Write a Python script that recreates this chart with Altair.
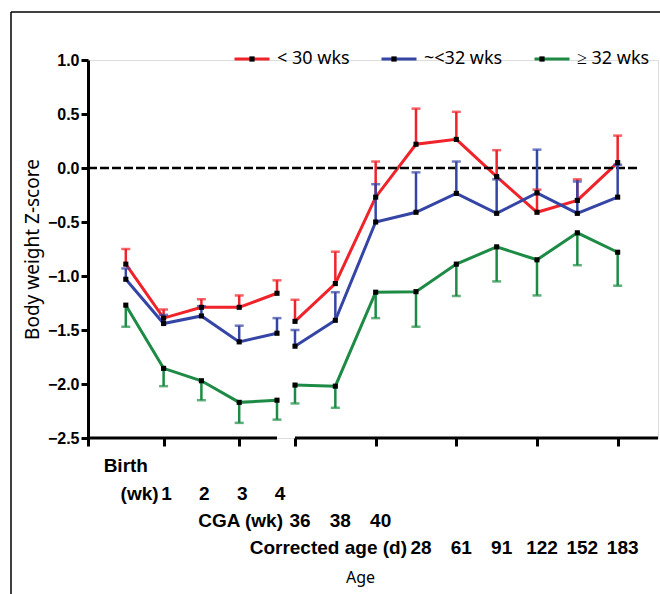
import altair as alt
import pandas as pd

# ---------------- data ----------------
groups = ["< 30 wks", "~<32 wks", "≥ 32 wks"]
colors = ["#f0222a", "#3545a5", "#1d8b45"]

# x index of each time point: 1..5 = Birth, wk1..wk4 ; 6..14 = CGA 36,38,40, CA 28..183 d
positions = [1, 2, 3, 4, 5, 6, 7, 8, 9, 10, 11, 12, 13, 14]

red_vals = [-0.89, -1.39, -1.29, -1.29, -1.16, -1.42, -1.07, -0.27, 0.22, 0.265, -0.08, -0.41, -0.30, 0.05]
red_err = [-0.75, -1.31, -1.215, -1.18, -1.04, -1.22, -0.775, 0.06, 0.55, 0.52, 0.165, -0.20, -0.105, 0.30]
blue_vals = [-1.03, -1.44, -1.37, -1.61, -1.53, -1.65, -1.41, -0.50, -0.41, -0.235, -0.42, -0.23, -0.42, -0.27]
blue_err = [-0.93, -1.36, -1.28, -1.46, -1.39, -1.50, -1.15, -0.15, -0.04, 0.06, -0.105, 0.17, -0.125, 0.03]
green_vals = [-1.27, -1.855, -1.97, -2.17, -2.15, -2.01, -2.02, -1.15, -1.145, -0.89, -0.73, -0.85, -0.60, -0.78]
green_err = [-1.47, -2.02, -2.15, -2.36, -2.33, -2.18, -2.22, -1.39, -1.47, -1.185, -1.05, -1.18, -0.90, -1.09]

series_vals = [red_vals, blue_vals, green_vals]
series_err = [red_err, blue_err, green_err]

# tick label rows
row1_text, row1_pos = ["Birth"], [1]
row2_text, row2_pos = ["1", "2", "3", "4"], [2, 3, 4, 5]
row3_text, row3_pos = ["36", "38", "40"], [6, 7, 8]
row4_text, row4_pos = ["28", "61", "91", "122", "152", "183"], [9, 10, 11, 12, 13, 14]
prefix_text = ["(wk)", "CGA (wk)", "Corrected age (d)"]
prefix_pos = [2, 6, 9]

x_ticks = list(range(16))
y_ticks = [-2.5, -2.0, -1.5, -1.0, -0.5, 0.0, 0.5, 1.0]
seg_start, seg_end = [0, 6], [5, 15]
ref_start, ref_end = [0], [14.55]

# ---------------- tables ----------------
rows = []
for g, vals, errs in zip(groups, series_vals, series_err):
    for p, v, e in zip(positions, vals, errs):
        rows.append({"group": g, "group2": g + " ", "pos": p, "value": v, "bound": e,
                     "segment": "L" if p <= 5 else "R"})
df = pd.DataFrame(rows)

xscale = alt.Scale(domain=[0, 5, 6, 15], range=[0, 189, 207, 570], nice=False, zero=False)
yscale = alt.Scale(domain=[-2.5, 1.0], nice=False, zero=False)

X = alt.X("pos:Q", scale=xscale,
          axis=alt.Axis(values=x_ticks, labels=False, domain=False, grid=False,
                        ticks=True, tickSize=8, tickWidth=3, tickColor="black",
                        title="Age", titleFont="Noto Sans", titleFontSize=16,
                        titleFontWeight="normal", titleColor="black",
                        titleX=272, titleY=131))
Y = alt.Y("value:Q", scale=yscale,
          axis=alt.Axis(values=y_ticks, format=".1f", grid=False,
                        labelFont="Liberation Sans", labelFontWeight="bold",
                        labelFontSize=16, labelColor="black", labelPadding=2,
                        tickSize=7, tickWidth=3, tickColor="black",
                        domainColor="black", domainWidth=3,
                        title="Body weight Z-score", titleFont="Noto Sans",
                        titleFontSize=19, titleFontWeight="normal",
                        titleColor="black", titlePadding=5))

legend_common = dict(orient="none", legendX=145, legendY=-20, direction="horizontal",
                     title=None, symbolSize=1225, symbolStrokeWidth=3,
                     labelFont="Noto Sans", labelFontSize=18, labelColor="black",
                     labelOffset=6, columnPadding=25, padding=0, symbolOffset=0,
                     labelExpr="trim(datum.label)")

color_enc = alt.Color("group:N", scale=alt.Scale(domain=groups, range=colors),
                      legend=alt.Legend(symbolType="stroke", **legend_common))
color_nolegend = alt.Color("group:N", scale=alt.Scale(domain=groups, range=colors), legend=None)

base = alt.Chart(df)

lines = base.mark_line(strokeWidth=3).encode(
    x=X, y=Y, color=color_enc, detail="segment:N", order="pos:Q")

err_rules = base.mark_rule(strokeWidth=2.5).encode(
    x="pos:Q", y="value:Q", y2="bound:Q", color=color_nolegend)

err_caps = base.mark_tick(orient="horizontal", size=9, thickness=2.5).encode(
    x="pos:Q", y="bound:Q", color=color_nolegend)

points = base.mark_square(size=26, opacity=1).encode(
    x="pos:Q", y="value:Q",
    fill=alt.Fill("group2:N", scale=alt.Scale(domain=[g + " " for g in groups], range=["black"] * 3),
                  legend=alt.Legend(symbolType="M-0.15,-0.15H0.15V0.15H-0.15Z",
                                    symbolStrokeColor="transparent", labelOpacity=0,
                                    **legend_common)))

ref_df = pd.DataFrame({"x": ref_start, "x2": ref_end, "y": [0.0]})
ref_line = alt.Chart(ref_df).mark_rule(color="black", strokeWidth=2.5, strokeDash=[9, 3]).encode(
    x="x:Q", x2="x2:Q", y="y:Q")

seg_df = pd.DataFrame({"x": seg_start, "x2": seg_end, "y": [-2.5, -2.5]})
x_domain = alt.Chart(seg_df).mark_rule(color="black", strokeWidth=3).encode(
    x="x:Q", x2="x2:Q", y="y:Q")

def text_layer(texts, pos, ypix, dx, align="center"):
    d = pd.DataFrame({"t": texts, "pos": pos})
    return alt.Chart(d).mark_text(font="Liberation Sans", fontWeight="bold", fontSize=19,
                                  color="black", align=align, baseline="middle", dx=dx).encode(
        x="pos:Q", y=alt.value(ypix), text="t:N")

labels = [
    text_layer(row1_text, row1_pos, 406, 0),
    text_layer(row2_text, row2_pos, 434, 3),
    text_layer(row3_text, row3_pos, 461, 5),
    text_layer(row4_text, row4_pos, 488, 5),
    text_layer([prefix_text[0]], [prefix_pos[0]], 434, -5, "right"),
    text_layer([prefix_text[1]], [prefix_pos[1]], 461, -12, "right"),
    text_layer([prefix_text[2]], [prefix_pos[2]], 488, -9, "right"),
]

frame_df = pd.DataFrame({"a": [0]})
frame_top = alt.Chart(frame_df).mark_rule(color="black", strokeWidth=1.5).encode(
    x=alt.value(-77), x2=alt.value(580), y=alt.value(-48))
frame_left = alt.Chart(frame_df).mark_rule(color="black", strokeWidth=1.5).encode(
    x=alt.value(-77), y=alt.value(-48), y2=alt.value(540))

chart = alt.layer(
    lines, ref_line, err_rules, err_caps, points, x_domain, *labels, frame_top, frame_left
).properties(
    width=570, height=378,
    autosize=alt.AutoSizeParams(type="none"),
    padding={"left": 88, "top": 60, "right": 2, "bottom": 156},
).configure_view(stroke=None).configure(background="white")

chart.save("out.html", embed_options={"renderer": "svg", "actions": False})
